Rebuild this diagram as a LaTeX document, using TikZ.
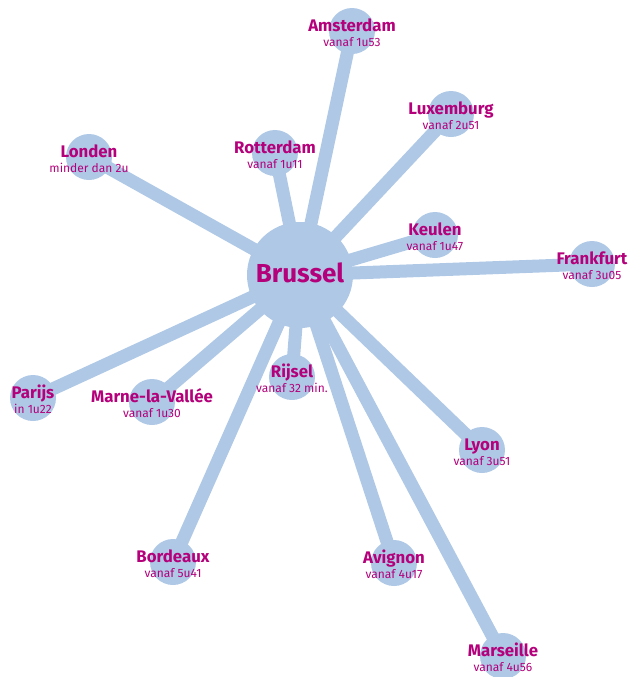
\documentclass[tikz,border=0pt]{standalone}
\usepackage{fontspec}
\setmainfont{Fira Sans}
\definecolor{stadblauw}{HTML}{AEC8E6}
\definecolor{stadroze}{HTML}{B4007A}
\tikzset{
  stad/.style={circle, fill=stadblauw, minimum size=23pt, inner sep=0pt},
  lijn/.style={draw=stadblauw, line width=6.5pt},
  naam/.style={text=stadroze, font=\bfseries\fontsize{8.4}{9}\selectfont, anchor=base, inner sep=0pt},
  tijd/.style={text=stadroze, font=\fontsize{6}{7}\selectfont, anchor=base, inner sep=0pt},
}

\begin{document}
\begin{tikzpicture}[x=0.5pt, y=-0.5pt]
    \useasboundingbox (0,0) rectangle (631,677);

    % 円の定義
    \node[stad, minimum size=53pt] (bru) at (300,275) {};
    \node[stad] (ams) at (352,31) {};
    \node[stad] (lux) at (451,114) {};
    \node[stad] (rot) at (275,153) {};
    \node[stad] (lon) at (89,157) {};
    \node[stad] (keu) at (435,235) {};
    \node[stad] (fra) at (592,264) {};
    \node[stad] (par) at (33,398) {};
    \node[stad] (mar) at (152,402) {};
    \node[stad] (rij) at (292,377) {};
    \node[stad] (lyo) at (482,450) {};
    \node[stad] (bor) at (173,562) {};
    \node[stad] (avi) at (394,563) {};
    \node[stad] (mrs) at (503,656) {};

    % 線を引く
    \draw[lijn] (bru.center) -- (ams.center);
    \draw[lijn] (bru.center) -- (lux.center);
    \draw[lijn] (bru.center) -- (rot.center);
    \draw[lijn] (bru.center) -- (lon.center);
    \draw[lijn] (bru.center) -- (keu.center);
    \draw[lijn] (bru.center) -- (fra.center);
    \draw[lijn] (bru.center) -- (par.center);
    \draw[lijn] (bru.center) -- (mar.center);
    \draw[lijn] (bru.center) -- (rij.center);
    \draw[lijn] (bru.center) -- (lyo.center);
    \draw[lijn] (bru.center) -- (bor.center);
    \draw[lijn] (bru.center) -- (avi.center);
    \draw[lijn] (bru.center) -- (mrs.center);

    % ラベル
    \node[naam, font=\bfseries\fontsize{13}{15}\selectfont] (bru-naam) at ([yshift=-3.5pt]bru.center) {Brussel};
    \node[naam] (ams-naam) at (ams.center) {Amsterdam};
    \node[tijd] (ams-tijd) at ([yshift=-7.5pt]ams.center) {vanaf 1u53};
    \node[naam] (lux-naam) at (lux.center) {Luxemburg};
    \node[tijd] (lux-tijd) at ([yshift=-7.5pt]lux.center) {vanaf 2u51};
    \node[naam] (rot-naam) at (rot.center) {Rotterdam};
    \node[tijd] (rot-tijd) at ([yshift=-7.5pt]rot.center) {vanaf 1u11};
    \node[naam] (lon-naam) at (lon.center) {Londen};
    \node[tijd] (lon-tijd) at ([yshift=-7.5pt]lon.center) {minder dan 2u};
    \node[naam] (keu-naam) at (keu.center) {Keulen};
    \node[tijd] (keu-tijd) at ([yshift=-7.5pt]keu.center) {vanaf 1u47};
    \node[naam] (fra-naam) at (fra.center) {Frankfurt};
    \node[tijd] (fra-tijd) at ([yshift=-7.5pt]fra.center) {vanaf 3u05};
    \node[naam] (par-naam) at (par.center) {Parijs};
    \node[tijd] (par-tijd) at ([yshift=-7.5pt]par.center) {in 1u22};
    \node[naam] (mar-naam) at (mar.center) {Marne-la-Vallée};
    \node[tijd] (mar-tijd) at ([yshift=-7.5pt]mar.center) {vanaf 1u30};
    \node[naam] (rij-naam) at (rij.center) {Rijsel};
    \node[tijd] (rij-tijd) at ([yshift=-7.5pt]rij.center) {vanaf 32 min.};
    \node[naam] (lyo-naam) at (lyo.center) {Lyon};
    \node[tijd] (lyo-tijd) at ([yshift=-7.5pt]lyo.center) {vanaf 3u51};
    \node[naam] (bor-naam) at (bor.center) {Bordeaux};
    \node[tijd] (bor-tijd) at ([yshift=-7.5pt]bor.center) {vanaf 5u41};
    \node[naam] (avi-naam) at (avi.center) {Avignon};
    \node[tijd] (avi-tijd) at ([yshift=-7.5pt]avi.center) {vanaf 4u17};
    \node[naam] (mrs-naam) at (mrs.center) {Marseille};
    \node[tijd] (mrs-tijd) at ([yshift=-7.5pt]mrs.center) {vanaf 4u56};

  \end{tikzpicture}
\end{document}
